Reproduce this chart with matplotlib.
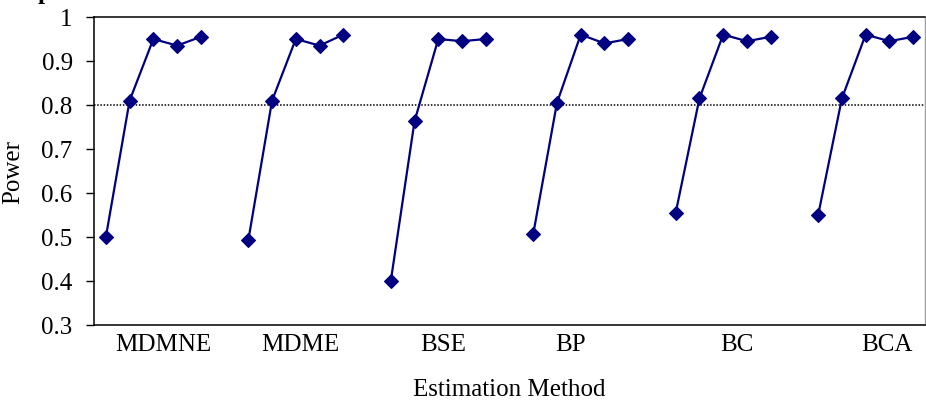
import matplotlib
matplotlib.use("Agg")
import matplotlib.pyplot as plt
import numpy as np

plt.rcParams['font.family'] = ['Liberation Serif', 'DejaVu Serif']

# Estimation methods and the power of each at five successive conditions
methods = ["MDMNE", "MDME", "BSE", "BP", "BC", "BCA"]
power_mdmne = [0.50, 0.81, 0.95, 0.935, 0.955]
power_mdme = [0.493, 0.81, 0.95, 0.935, 0.96]
power_bse = [0.40, 0.763, 0.95, 0.945, 0.95]
power_bp = [0.507, 0.805, 0.96, 0.94, 0.95]
power_bc = [0.555, 0.815, 0.96, 0.945, 0.955]
power_bca = [0.55, 0.815, 0.96, 0.945, 0.955]
series = [power_mdmne, power_mdme, power_bse, power_bp, power_bc, power_bca]

target_power = 0.8
y_ticks = [0.3, 0.4, 0.5, 0.6, 0.7, 0.8, 0.9, 1.0]
y_tick_labels = ["0.3", "0.4", "0.5", "0.6", "0.7", "0.8", "0.9", "1"]

# category slots: 5 points per method, one empty slot between methods
slots_per_group = 6
n_slots = slots_per_group * len(methods) - 1
label_slots = [2.41, 8.18, 14.20, 19.55, 26.58, 32.90]

fig = plt.figure(figsize=(9.26, 4.02), dpi=100)
ax = fig.add_axes([94 / 926, 1 - 326 / 402, 831 / 926, 308 / 402])

navy = "#000080"
for g, vals in enumerate(series):
    xs = np.arange(len(vals)) + g * slots_per_group
    ax.plot(xs, vals, color=navy, lw=1.6, marker="D", ms=6.8,
            markerfacecolor=navy, markeredgecolor=navy, markeredgewidth=0.8,
            zorder=3)

ax.axhline(target_power, color="black", lw=1.1, ls=(0, (1, 1.1)), zorder=2)

ax.set_xlim(-0.5, n_slots - 0.5)
ax.set_ylim(0.3, 1.0)
ax.set_yticks(y_ticks)
ax.set_yticklabels(y_tick_labels)
ax.set_xticks(label_slots)
ax.set_xticklabels(methods)

ax.tick_params(axis="y", direction="out", length=5.8, width=1, pad=9.5,
               labelsize=18, color="black")
ax.tick_params(axis="x", length=0, pad=6, labelsize=18)

for side in ("left", "top", "bottom"):
    ax.spines[side].set_color("black")
    ax.spines[side].set_linewidth(1.1)
ax.spines["right"].set_color("#a0a0a0")
ax.spines["right"].set_linewidth(1.0)

ax.set_ylabel("Power", fontsize=18)
ax.yaxis.set_label_coords((13 - 94) / 831, 0.5)
ax.yaxis.label.set_verticalalignment("center")

ax.set_xlabel("Estimation Method", fontsize=18)
ax.xaxis.set_label_coords(0.5, (326 - 396) / 308)
ax.xaxis.label.set_verticalalignment("baseline")

# chart title sits above the visible canvas; only its descender shows
fig.text(45 / 926, 1 + 1.5 / 402, "p", fontsize=18, fontweight="bold",
         ha="center", va="baseline")

fig.savefig("out.png", dpi=100)
